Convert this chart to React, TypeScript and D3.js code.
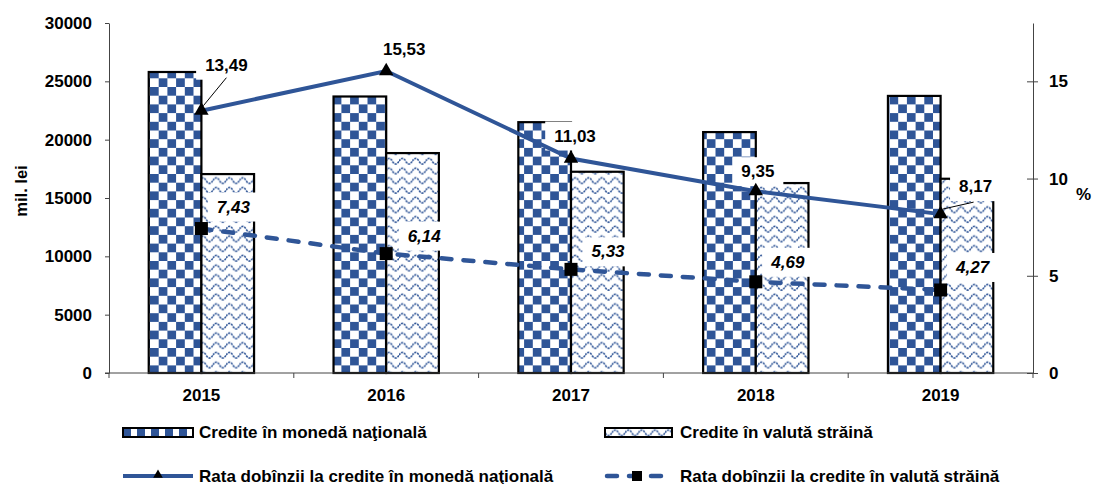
import React, { useEffect, useRef } from 'react';
import * as d3 from 'd3';

const years = ['2015', '2016', '2017', '2018', '2019'];
const creditNational = [25800, 23700, 21500, 20650, 23750];
const creditForeign = [17050, 18850, 17250, 16280, 16650];
const rateNational = [13.49, 15.53, 11.03, 9.35, 8.17];
const rateForeign = [7.43, 6.14, 5.33, 4.69, 4.27];
const leftTicks = [0, 5000, 10000, 15000, 20000, 25000, 30000];
const rightTicks = [0, 5, 10, 15];

const seriesNames = [
  'Credite în monedă naţională',
  'Credite în valută străină',
  'Rata dobînzii la credite în monedă naţională',
  'Rata dobînzii la credite în valută străină',
];

// label offsets from the point (dx to text centre, dy to baseline)
const natLabelOffsets = [[25, -40], [18, -16], [4, -17], [2, -14], [35, -22]];
const forLabelOffsets = [[32, -16], [38, -12], [37, -12], [32, -14], [32, -17]];

const BLUE = '#2F5597';
const FONT = '"Liberation Sans", Arial, sans-serif';

const App: React.FC = () => {
  const svgRef = useRef<SVGSVGElement>(null);

  useEffect(() => {
    if (!svgRef.current) return;
    const svg = d3.select(svgRef.current);
    svg.selectAll('*').remove();

    const left = 109, right = 1033, top = 23, bottom = 373;

    const x = d3.scaleBand<string>()
      .domain(years)
      .range([left, right])
      .paddingInner(0.43)
      .paddingOuter(0.215);
    const xs = d3.scaleBand<string>()
      .domain(['nat', 'for'])
      .range([0, x.bandwidth()]);
    const yL = d3.scaleLinear().domain([0, 30000]).range([bottom, top]);
    const yR = d3.scaleLinear().domain([0, 18]).range([bottom, top]);
    const cx = (d: string) => x(d)! + x.bandwidth() / 2;

    // patterns
    const defs = svg.append('defs');
    const ck = defs.append('pattern').attr('id', 'checker')
      .attr('patternUnits', 'userSpaceOnUse')
      .attr('x', 150).attr('y', 0)
      .attr('width', 17.4).attr('height', 17.4);
    ck.append('rect').attr('width', 17.4).attr('height', 17.4).attr('fill', '#fff');
    ck.append('rect').attr('width', 8.7).attr('height', 8.7).attr('fill', BLUE);
    ck.append('rect').attr('x', 8.7).attr('y', 8.7).attr('width', 8.7).attr('height', 8.7).attr('fill', BLUE);

    const ckl = defs.append('pattern').attr('id', 'checkerLegend')
      .attr('patternUnits', 'userSpaceOnUse')
      .attr('x', 123).attr('y', 428)
      .attr('width', 14).attr('height', 18);
    ckl.append('rect').attr('width', 14).attr('height', 18).attr('fill', '#fff');
    ckl.append('rect').attr('width', 8).attr('height', 9).attr('fill', BLUE);

    const wv = defs.append('pattern').attr('id', 'wave')
      .attr('patternUnits', 'userSpaceOnUse')
      .attr('width', 13.3).attr('height', 9.7);
    wv.append('rect').attr('width', 13.3).attr('height', 9.7).attr('fill', '#fff');
    wv.append('path')
      .attr('d', 'M0,6 Q3.3,0.4 6.65,6 T13.3,6')
      .attr('fill', 'none')
      .attr('stroke', BLUE)
      .attr('stroke-width', 1.6)
      .attr('stroke-dasharray', '2.2,0.9');

    // bars
    const g = svg.append('g');
    g.selectAll('rect.nat')
      .data(years)
      .join('rect')
      .attr('class', 'nat')
      .attr('x', d => x(d)! + xs('nat')!)
      .attr('y', (d, i) => yL(creditNational[i]))
      .attr('width', xs.bandwidth())
      .attr('height', (d, i) => yL(0) - yL(creditNational[i]))
      .attr('fill', 'url(#checker)')
      .attr('stroke', '#000')
      .attr('stroke-width', 2.2);
    g.selectAll('rect.for')
      .data(years)
      .join('rect')
      .attr('class', 'for')
      .attr('x', d => x(d)! + xs('for')!)
      .attr('y', (d, i) => yL(creditForeign[i]))
      .attr('width', xs.bandwidth())
      .attr('height', (d, i) => yL(0) - yL(creditForeign[i]))
      .attr('fill', 'url(#wave)')
      .attr('stroke', '#000')
      .attr('stroke-width', 2.2);

    // axes
    const axL = svg.append('g')
      .attr('transform', `translate(${left},0)`)
      .call(d3.axisLeft(yL).tickValues(leftTicks).tickSize(4).tickSizeOuter(0).tickPadding(13).tickFormat(d3.format('d')));
    axL.select('.domain').attr('stroke', '#444');
    axL.selectAll('.tick line').attr('stroke', '#444');
    axL.selectAll('text').attr('font-family', FONT).attr('font-size', 17).attr('font-weight', 'bold').attr('fill', '#000');

    const axR = svg.append('g')
      .attr('transform', `translate(${right},0)`)
      .call(d3.axisRight(yR).tickValues(rightTicks).tickSize(5).tickSizeOuter(0).tickPadding(11));
    axR.select('.domain').attr('stroke', '#444');
    axR.selectAll('.tick line').attr('x1', -6).attr('stroke', '#444');
    axR.selectAll('text').attr('font-family', FONT).attr('font-size', 17).attr('font-weight', 'bold').attr('fill', '#000');

    const axB = svg.append('g')
      .attr('transform', `translate(0,${bottom})`)
      .call(d3.axisBottom(x).tickSize(0).tickPadding(16));
    axB.select('.domain').attr('stroke', '#444').attr('d', `M${left - 4},0H${right}`);
    axB.selectAll('text').attr('font-family', FONT).attr('font-size', 17).attr('font-weight', 'bold').attr('fill', '#000');
    axB.selectAll('line.sep')
      .data(d3.range(years.length + 1))
      .join('line')
      .attr('class', 'sep')
      .attr('x1', i => left + i * x.step())
      .attr('x2', i => left + i * x.step())
      .attr('y1', 0).attr('y2', 5)
      .attr('stroke', '#444');

    // axis titles
    svg.append('text')
      .attr('transform', 'translate(27,191) rotate(-90)')
      .attr('text-anchor', 'middle')
      .attr('font-family', FONT).attr('font-size', 16.5).attr('font-weight', 'bold')
      .text('mil. lei');
    svg.append('text')
      .attr('x', 1076).attr('y', 200)
      .attr('font-family', FONT).attr('font-size', 17).attr('font-weight', 'bold')
      .text('%');

    const boxes = svg.append('g');
    const lines = svg.append('g');
    const labels = svg.append('g');

    const natPts = years.map((d, i) => [cx(d), yR(rateNational[i])] as [number, number]);
    const forPts = years.map((d, i) => [cx(d), yR(rateForeign[i])] as [number, number]);

    lines.append('path')
      .attr('d', d3.line()(natPts)!)
      .attr('fill', 'none').attr('stroke', BLUE).attr('stroke-width', 4);
    lines.append('path')
      .attr('d', d3.line()(forPts)!)
      .attr('fill', 'none').attr('stroke', BLUE).attr('stroke-width', 4.5)
      .attr('stroke-dasharray', '10,12').attr('stroke-linecap', 'round');

    const tri = d3.symbol(d3.symbolTriangle, 90);
    lines.selectAll('path.tri')
      .data(natPts)
      .join('path')
      .attr('class', 'tri')
      .attr('transform', d => `translate(${d[0]},${d[1]})`)
      .attr('d', tri()!)
      .attr('fill', '#000');
    lines.selectAll('rect.sq')
      .data(forPts)
      .join('rect')
      .attr('class', 'sq')
      .attr('x', d => d[0] - 6.5).attr('y', d => d[1] - 6.5)
      .attr('width', 13).attr('height', 13)
      .attr('fill', '#000');

    // leader lines for first and last national labels
    [0, 4].forEach(i => {
      const [px, py] = natPts[i];
      const [dx, dy] = natLabelOffsets[i];
      lines.append('line')
        .attr('x1', px + 2).attr('y1', py - 5)
        .attr('x2', i === 0 ? px + dx : px + dx - 2)
        .attr('y2', i === 0 ? py + dy + 7 : py + dy + 10)
        .attr('stroke', '#000').attr('stroke-width', 1);
    });

    const addLabel = (px: number, py: number, off: number[], txt: string, italic: boolean) => {
      const t = labels.append('text')
        .attr('x', px + off[0]).attr('y', py + off[1])
        .attr('text-anchor', 'middle')
        .attr('font-family', FONT).attr('font-size', 17).attr('font-weight', 'bold')
        .attr('font-style', italic ? 'italic' : 'normal')
        .text(txt);
      const w = (t.node() as SVGTextElement).getComputedTextLength();
      boxes.append('rect')
        .attr('x', px + off[0] - w / 2 - 9).attr('y', py + off[1] - 20)
        .attr('width', w + 18).attr('height', 29)
        .attr('fill', '#fff');
    };
    const fmt = (v: number) => v.toFixed(2).replace('.', ',');
    natPts.forEach((p, i) => addLabel(p[0], p[1], natLabelOffsets[i], fmt(rateNational[i]), false));
    forPts.forEach((p, i) => addLabel(p[0], p[1], forLabelOffsets[i], fmt(rateForeign[i]), true));

    // legend
    const leg = svg.append('g')
      .attr('font-family', FONT).attr('font-size', 17).attr('font-weight', 'bold');
    leg.append('rect').attr('x', 123).attr('y', 428).attr('width', 70).attr('height', 9)
      .attr('fill', 'url(#checkerLegend)').attr('stroke', '#000').attr('stroke-width', 2);
    leg.append('text').attr('x', 199).attr('y', 438).text(seriesNames[0]);
    leg.append('rect').attr('x', 605).attr('y', 428).attr('width', 67).attr('height', 9)
      .attr('fill', 'url(#wave)').attr('stroke', '#000').attr('stroke-width', 2);
    leg.append('text').attr('x', 680).attr('y', 438).text(seriesNames[1]);

    leg.append('line').attr('x1', 123).attr('x2', 193).attr('y1', 476).attr('y2', 476)
      .attr('stroke', BLUE).attr('stroke-width', 4);
    leg.append('path').attr('transform', 'translate(158,475)')
      .attr('d', d3.symbol(d3.symbolTriangle, 40)()!).attr('fill', '#000');
    leg.append('text').attr('x', 199).attr('y', 482).text(seriesNames[2]);

    leg.append('line').attr('x1', 607).attr('x2', 668).attr('y1', 476).attr('y2', 476)
      .attr('stroke', BLUE).attr('stroke-width', 4.5)
      .attr('stroke-dasharray', '10,12').attr('stroke-linecap', 'round');
    leg.append('rect').attr('x', 632).attr('y', 471).attr('width', 10).attr('height', 10).attr('fill', '#000');
    leg.append('text').attr('x', 680).attr('y', 482).text(seriesNames[3]);
  }, []);

  return (
    <svg
      ref={svgRef}
      width={1096}
      height={484}
      style={{ position: 'absolute', left: 0, top: 0, background: '#fff' }}
    />
  );
};

export default App;
